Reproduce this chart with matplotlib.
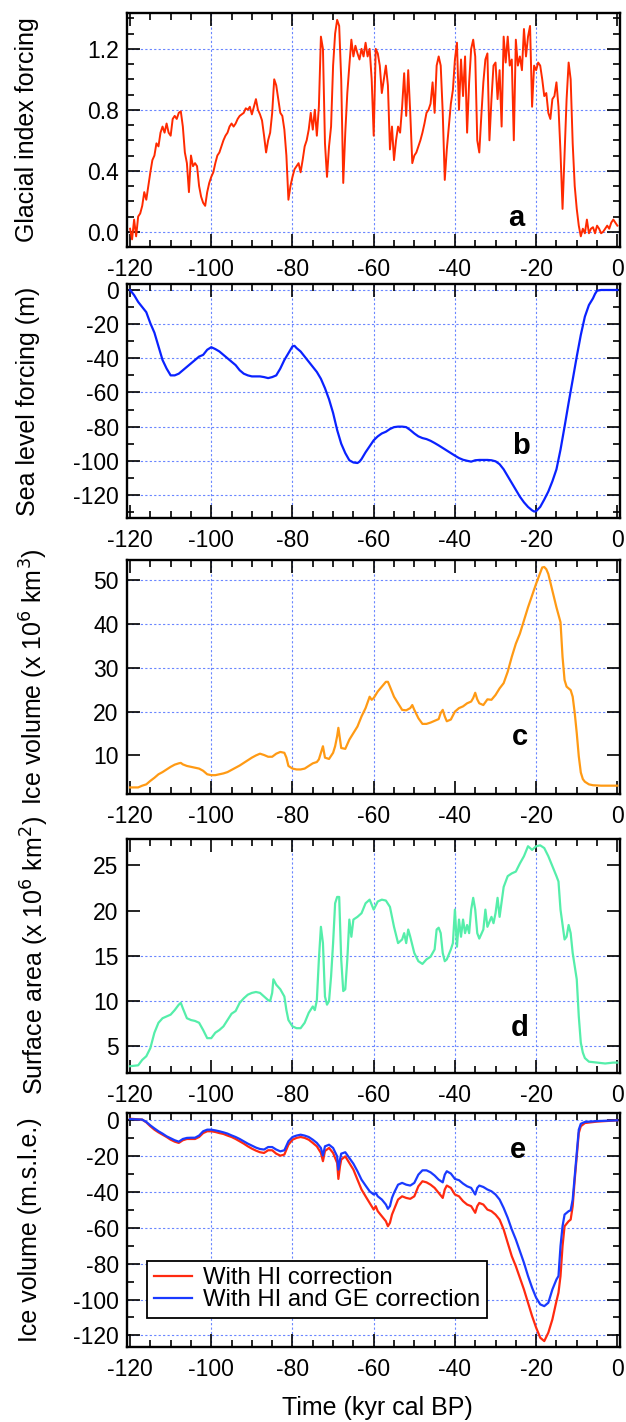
import numpy as np
import matplotlib
matplotlib.use("Agg")
import matplotlib.pyplot as plt
from matplotlib.ticker import MultipleLocator, FormatStrFormatter

plt.rcParams['font.family'] = ['Liberation Sans', 'DejaVu Sans']
plt.rcParams['axes.unicode_minus'] = False

# ---------------- data ----------------
# (a) glacial index forcing, sampled every 0.5 kyr from -120 to 0
time_a = np.arange(-120.0, 0.25, 0.5)
gi_a = [
    0.02, -0.05, 0.08, -0.03, 0.10, 0.12, 0.17, 0.26, 0.21, 0.30,
    0.39, 0.47, 0.50, 0.58, 0.56, 0.65, 0.69, 0.65, 0.71, 0.65,
    0.63, 0.74, 0.76, 0.74, 0.78, 0.79, 0.69, 0.52, 0.45, 0.26,
    0.50, 0.43, 0.45, 0.43, 0.30, 0.23, 0.19, 0.17, 0.26, 0.32,
    0.36, 0.39, 0.45, 0.50, 0.52, 0.56, 0.60, 0.63, 0.65, 0.69,
    0.71, 0.69, 0.71, 0.74, 0.76, 0.77, 0.78, 0.81, 0.80, 0.82,
    0.77, 0.82, 0.87, 0.80, 0.77, 0.73, 0.63, 0.52, 0.60, 0.65,
    0.78, 1.00, 0.96, 0.87, 0.78, 0.76, 0.67, 0.50, 0.21, 0.30,
    0.36, 0.41, 0.43, 0.45, 0.39, 0.47, 0.56, 0.60, 0.67, 0.78,
    0.67, 0.80, 0.63, 0.82, 1.28, 1.20, 0.58, 0.36, 0.56, 0.69,
    1.09, 1.30, 1.39, 1.35, 1.00, 0.32, 0.65, 0.91, 1.09, 1.26,
    1.15, 1.22, 1.17, 1.13, 1.20, 1.15, 1.24, 1.15, 1.20, 1.00,
    0.63, 1.20, 1.17, 1.09, 0.91, 1.00, 1.09, 0.96, 0.54, 0.69,
    0.47, 0.60, 0.69, 0.65, 0.82, 1.04, 0.76, 1.06, 0.78, 0.45,
    0.50, 0.52, 0.56, 0.60, 0.65, 0.71, 0.78, 0.80, 0.84, 0.98,
    0.78, 1.09, 1.15, 1.09, 0.78, 0.34, 0.54, 0.69, 0.84, 0.93,
    1.13, 1.24, 0.80, 1.13, 0.89, 1.15, 0.65, 0.98, 1.20, 1.26,
    1.15, 0.60, 0.52, 0.76, 0.98, 1.13, 1.17, 0.60, 0.87, 1.09,
    1.11, 0.87, 1.06, 0.69, 1.28, 1.11, 1.28, 1.09, 1.13, 0.60,
    1.26, 1.09, 1.15, 1.06, 1.33, 1.15, 1.28, 1.35, 0.82, 1.09,
    1.06, 1.11, 1.09, 1.00, 0.89, 0.91, 0.78, 0.74, 0.87, 0.89,
    0.98, 0.82, 0.52, 0.15, 0.52, 0.87, 1.11, 1.00, 0.58, 0.30,
    0.15, 0.04, -0.03, 0.02, -0.01, 0.08, -0.01, 0.02, 0.03, -0.01,
    0.04, 0.02, -0.01, 0.00, 0.02, 0.04, 0.02, 0.06, 0.08, 0.06,
    0.04,
]

# (b) sea level forcing (m)
time_b = [-120, -119, -118, -117, -116, -115, -114, -113, -112, -111, -110, -109, -108, -107,
          -106, -105, -104, -103, -102, -101, -100, -99, -98, -97, -96, -95, -94, -93, -92,
          -91, -90, -89, -88, -87, -86, -85, -84, -83, -82, -81, -80, -79.5, -79, -78, -77,
          -76, -75, -74, -73, -72, -71, -70, -69, -68, -67, -66, -65, -64, -63.5, -63, -62,
          -61, -60, -59, -58, -57, -56, -55, -54, -53, -52, -51, -50, -49, -48, -47, -46,
          -45, -44, -43, -42, -41, -40, -39, -38, -37, -36, -35, -34, -33, -32, -31, -30,
          -29, -28, -27, -26, -25, -24, -23, -22, -21, -20.5, -20, -19, -18, -17, -16, -15,
          -14, -13, -12, -11, -10, -9, -8, -7, -6, -5.5, -5, -4, 0]
sl_b = [0, -3, -7, -10, -13, -19.5, -25, -33, -41, -46, -50, -50, -49, -47,
        -45, -43, -41, -39, -38, -35, -33.5, -34.6, -36, -38, -40, -42, -44, -47, -49,
        -50, -50.6, -50.6, -50.6, -51, -51.6, -51, -50, -46, -41, -37, -33, -32.7, -34, -36, -39,
        -42, -45, -48, -52, -57.5, -64, -72, -82, -90, -95.5, -99.7, -101, -101.3, -100.5, -99, -95,
        -91.5, -88, -85.7, -84, -83, -81.4, -80.3, -80, -80, -80.3, -82, -84, -85.7, -86.7, -87.3, -88.3,
        -89.6, -91, -92.5, -94, -95.5, -97, -98.4, -99.4, -100, -100.5, -99.7, -99.5, -99.5, -99.5, -99.7, -100.3,
        -102, -105, -109, -113, -117, -121, -124.3, -127, -129, -129.7, -129.5, -127, -122.7, -118, -112, -105,
        -93.5, -80, -66, -52.6, -39, -26.3, -15.6, -8.8, -4.9, -2.3, -0.4, 0, 0]

# (c) ice volume (x 10^6 km^3)
time_c = [-120, -118, -117, -116, -115, -114, -113, -112, -111, -110, -109, -108, -107.5, -107,
          -106, -105, -104, -103, -102, -101, -100, -99, -98, -97, -96, -95, -94, -93, -92,
          -91, -90, -89, -88, -87, -86, -85, -84, -83, -82, -81.5, -81, -80, -79, -78, -77,
          -76, -75, -74, -73.5, -73, -72.5, -72, -71, -70, -69.5, -69, -68.7, -68.3, -68, -67,
          -66, -65, -64, -63, -62, -61, -60.5, -60, -59, -58, -57, -56.5, -56, -55, -54, -53,
          -52, -51, -50.5, -50, -49, -48, -47, -46, -45, -44, -43.5, -43, -42.5, -42, -41, -40,
          -39, -38, -37, -36, -35.5, -35, -34.5, -34, -33, -32, -31, -30, -29, -28, -27, -26,
          -25, -24, -23, -22, -21, -20, -19, -18.5, -18, -17.5, -17, -16, -15, -14, -13.5, -13,
          -12.5, -12, -11.5, -11, -10.5, -10, -9.5, -9, -8.5, -8, -7, -6, -4, -2, 0]
iv_c = [2.7, 2.7, 3.1, 3.4, 4.2, 4.9, 5.7, 6.2, 6.8, 7.4, 7.9, 8.2, 8.3, 7.96,
        7.6, 7.4, 7.2, 7.0, 6.5, 5.7, 5.5, 5.5, 5.7, 5.9, 6.2, 6.7, 7.2, 7.7, 8.3,
        8.9, 9.5, 10.0, 10.4, 10.1, 9.7, 9.7, 10.4, 10.8, 10.6, 9.5, 7.6, 7.0, 6.8, 6.8, 7.0,
        7.6, 8.2, 8.5, 9.1, 10.6, 12.1, 9.5, 9.2, 10.6, 12.1, 14.4, 16.3, 13.6, 11.7, 11.5,
        13.6, 15.1, 16.6, 18.9, 20.8, 23.4, 22.7, 23.1, 24.6, 25.7, 26.8, 26.8, 25.7, 23.4, 21.9, 20.4,
        20.3, 20.8, 21.5, 20.4, 18.5, 17.2, 17.2, 17.5, 17.9, 18.3, 19.7, 20.4, 18.9, 17.8, 18.2, 20.0,
        20.8, 21.2, 21.9, 22.3, 23.1, 24.3, 22.8, 21.9, 21.5, 22.8, 22.7, 23.8, 25.3, 26.5, 29.1, 32.5,
        35.5, 37.8, 40.8, 43.8, 46.5, 49.2, 51.7, 52.9, 53.0, 52.5, 51.4, 47.6, 43.8, 40.4, 32.5, 27.2,
        25.7, 25.3, 24.9, 23.4, 19.7, 15.1, 9.8, 6.1, 4.6, 4.0, 3.4, 3.2, 3.1, 3.1, 3.1]

# (d) surface area (x 10^6 km^2)
time_d = [-120, -118, -117, -116, -115, -114, -113, -112, -111, -110, -109, -108, -107.5, -107,
          -106, -105, -104, -103, -102, -101, -100, -99, -98, -97, -96, -95, -94, -93, -92,
          -91, -90, -89, -88, -87, -86, -85.5, -85, -84.7, -84, -83, -82, -81.5, -81, -80,
          -79, -78, -77, -76, -75, -74.5, -74, -73.5, -73, -72.5, -72, -71.5, -71, -70.5, -70,
          -69.5, -69, -68.5, -68, -67.5, -67, -66.5, -66, -65.5, -65, -64, -63, -62, -61, -60,
          -59, -58, -57, -56, -55, -54, -53, -52.5, -52, -51.5, -51, -50, -49, -48, -47, -46,
          -45, -44.5, -44, -43.5, -43, -42.5, -42, -41, -40.5, -40, -39.5, -39, -38.5, -38,
          -37.5, -37, -36.5, -36, -35.5, -35, -34.5, -34, -33, -32.5, -32, -31, -30.5, -30,
          -29.5, -29, -28, -27, -26, -25, -24, -23, -22, -21, -20, -19, -18, -17, -16, -15,
          -14.5, -14, -13, -12.5, -12, -11.5, -11, -10, -9.5, -9, -8.5, -8, -7, -5, -3, -1, 0]
sa_d = [2.8, 2.9, 3.5, 3.9, 4.8, 6.5, 7.6, 8.1, 8.3, 8.5, 9.0, 9.6, 9.8, 9.2,
        8.1, 7.9, 7.8, 7.6, 6.8, 5.9, 5.9, 6.5, 6.8, 7.2, 7.9, 8.6, 8.9, 9.8, 10.3,
        10.7, 10.9, 11.0, 10.9, 10.5, 10.1, 10.0, 10.9, 12.4, 11.8, 11.3, 10.5, 9.0, 7.9, 7.2,
        7.0, 7.0, 7.6, 8.7, 9.4, 9.0, 10.1, 14.6, 18.2, 16.4, 10.5, 9.6, 10.0, 12.7, 16.4,
        20.8, 21.5, 21.5, 14.6, 11.1, 11.3, 14.6, 19.0, 17.1, 19.0, 19.3, 19.7, 20.8, 21.2, 20.1,
        21.0, 21.2, 21.1, 20.4, 18.2, 16.4, 16.8, 17.5, 16.4, 17.9, 17.1, 15.3, 14.4, 14.1, 14.6, 14.9,
        15.7, 17.9, 18.1, 17.5, 15.3, 14.4, 14.6, 15.7, 16.4, 20.1, 16.0, 19.0, 17.1, 19.0,
        17.5, 18.4, 17.5, 20.1, 21.4, 20.1, 17.5, 16.9, 17.9, 20.1, 18.2, 19.3, 18.6, 19.7,
        21.4, 19.3, 22.6, 23.8, 24.1, 24.3, 25.2, 26.0, 27.1, 26.7, 27.1, 27.2, 26.9, 26.0, 24.9, 23.8,
        23.2, 20.1, 16.8, 17.1, 18.4, 17.5, 15.3, 12.4, 8.3, 5.4, 4.3, 3.7, 3.3, 3.2, 3.1, 3.2, 3.2]

# (e) ice volume in metres sea-level equivalent
time_e = [-120, -117, -116, -115, -114, -113, -112, -111, -110, -109, -108, -107, -106, -105,
          -104, -103, -102, -101, -100, -99, -98, -97, -96, -95, -94, -93, -92, -91, -90,
          -89, -88, -87, -86, -85, -84, -83, -82, -81, -80, -79, -78, -77, -76, -75, -74,
          -73, -72.5, -72, -71, -70, -69, -68.7, -68.3, -68, -67, -66, -65, -64, -63, -62,
          -61, -60, -59.5, -59, -58, -57, -56.5, -56, -55.5, -55, -54, -53, -52, -51, -50,
          -49, -48, -47, -46, -45, -44, -43, -42.5, -42, -41, -40, -39, -38, -37, -36,
          -35, -34.5, -34, -33, -32, -31, -30, -29, -28, -27, -26, -25, -24, -23, -22,
          -21, -20, -19, -18, -17, -16, -15, -14.5, -14, -13.5, -13, -12, -11.5, -11, -10.5,
          -10, -9.5, -9, -8, -5, 0]
hi_e = [0.9, 0.4, -1.1, -3.3, -5.2, -6.7, -8.0, -9.3, -10.8, -11.9, -12.6, -11.1, -10.4, -10.4,
        -10.4, -9.3, -7.1, -6.1, -6.1, -6.5, -7.1, -7.6, -8.5, -9.3, -10.4, -11.7, -13.0, -14.5, -15.8,
        -16.9, -17.8, -18.2, -16.7, -16.7, -18.6, -19.7, -19.1, -13.6, -10.8, -9.8, -9.3, -9.8, -10.8, -12.6, -14.5,
        -18.2, -22.8, -17.1, -15.4, -18.2, -23.8, -32.7, -25.6, -21.9, -20.1, -23.8, -27.5, -33.1, -38.6, -42.4,
        -46.1, -49.8, -47.9, -50.7, -53.5, -56.3, -59.1, -57.2, -52.6, -49.8, -44.2, -42.4, -43.3, -43.8, -42.4,
        -36.8, -34.0, -34.6, -35.9, -37.7, -40.5, -43.3, -38.6, -36.4, -37.7, -41.4, -42.4, -45.1, -47.0, -47.9,
        -51.6, -47.9, -46.1, -47.0, -49.8, -50.7, -52.6, -55.4, -60.9, -68.4, -75.8, -81.4, -87.9, -94.4, -101.8,
        -109.2, -115.7, -121.3, -123.2, -118.5, -111.1, -100.9, -96.2, -86.9, -70.2, -59.1, -56.3, -55.4, -47.9, -33.1,
        -20.1, -7.1, -3.3, -1.5, -0.7, 0.0]
hige_e = [0.7, 0.4, -0.9, -2.8, -4.5, -6.1, -7.4, -8.9, -10.0, -11.1, -11.9, -10.4, -9.8, -9.7,
          -9.7, -8.5, -6.1, -5.2, -5.2, -5.6, -6.1, -6.7, -7.4, -8.4, -9.3, -10.4, -11.7, -13.0, -14.1,
          -15.2, -16.0, -16.3, -14.9, -14.9, -16.3, -17.3, -16.7, -11.7, -9.3, -8.5, -8.0, -8.5, -9.3, -10.8, -12.6,
          -15.4, -19.7, -14.5, -13.6, -15.4, -20.1, -27.5, -21.9, -18.6, -17.8, -21.0, -24.2, -28.4, -33.1, -36.4,
          -39.6, -41.4, -40.5, -42.4, -44.2, -47.0, -49.4, -47.9, -43.3, -40.5, -35.9, -34.9, -35.9, -36.4, -34.9,
          -30.3, -27.9, -27.9, -29.0, -30.8, -33.1, -34.6, -30.3, -28.4, -29.7, -32.7, -33.4, -35.3, -36.8, -37.7,
          -41.4, -37.7, -36.4, -37.2, -38.6, -39.6, -41.4, -44.2, -48.9, -54.4, -60.9, -66.5, -73.0, -79.5, -86.9,
          -93.4, -99.0, -102.7, -103.7, -101.8, -94.4, -88.8, -86.9, -70.2, -59.1, -52.6, -50.7, -50.2, -44.2, -31.2,
          -18.2, -5.2, -1.9, -0.9, -0.4, 0.0]

legend_labels = ["With HI correction", "With HI and GE correction"]
ylabels = ["Glacial index forcing", "Sea level forcing (m)",
           "Ice volume (x 10$^6$ km$^3$)", "Surface area (x 10$^6$ km$^2$)",
           "Ice volume (m.s.l.e.)"]
panel_letters = ["a", "b", "c", "d", "e"]
xticks = [-120, -100, -80, -60, -40, -20, 0]

# ---------------- figure ----------------
W, H = 626, 1422
fig = plt.figure(figsize=(W / 100, H / 100), dpi=100)

left_px, right_px = 127, 620
panels_px = [(13, 247), (284, 518), (560, 794), (839, 1073), (1113, 1347)]
axes = []
for top, bot in panels_px:
    ax = fig.add_axes([left_px / W, (H - bot) / H, (right_px - left_px) / W, (bot - top) / H])
    axes.append(ax)

GRID_C = '#6a86ff'
TICK_FS = 16.5
LABEL_FS = 18

def style(ax, ylim, ymaj, ymin, yl, gx, gy, lab_x):
    ax.set_xlim(-120.75, 0.65)
    ax.set_ylim(*ylim)
    ax.xaxis.set_major_locator(MultipleLocator(20))
    ax.xaxis.set_minor_locator(MultipleLocator(5))
    ax.yaxis.set_major_locator(MultipleLocator(ymaj))
    if ymin:
        ax.yaxis.set_minor_locator(MultipleLocator(ymin))
    ax.tick_params(which='both', direction='in', top=True, right=True, labelsize=TICK_FS,
                   color='black')
    ax.tick_params(which='major', length=9.5, width=1.2)
    ax.tick_params(which='minor', length=5, width=1.2)
    ax.tick_params(axis='y', pad=6)
    ax.tick_params(axis='x', pad=8)
    for s in ax.spines.values():
        s.set_linewidth(1.7)
    for x in gx:
        ax.axvline(x, color=GRID_C, lw=0.8, ls=(0, (2, 2)), zorder=0)
    for y in gy:
        ax.axhline(y, color=GRID_C, lw=0.8, ls=(0, (2, 2)), zorder=0)
    ax.set_ylabel(yl, fontsize=LABEL_FS, va='center')
    ax.yaxis.set_label_coords((lab_x - left_px) / (right_px - left_px), 0.5)

ax = axes[0]
ax.plot(time_a, gi_a, color='#ff2a00', lw=1.4)
style(ax, (-0.1, 1.435), 0.4, 0.1, ylabels[0],
      [-100, -80, -60, -40, -20], [0.0, 0.4, 0.8, 1.2], 27)
ax.yaxis.set_major_formatter(FormatStrFormatter('%.1f'))

ax = axes[1]
ax.plot(time_b, sl_b, color='#0a22ff', lw=1.6)
style(ax, (-133.5, 3.5), 20, 10, ylabels[1],
      [-100, -80, -60, -40, -20], [0, -20, -40, -60, -80, -100, -120], 28)

ax = axes[2]
ax.plot(time_c, iv_c, color='#ff9a14', lw=1.6)
style(ax, (1.2, 54.6), 10, None, ylabels[2],
      [-100, -80, -60, -20], [20, 30, 40, 50], 34)

ax = axes[3]
ax.plot(time_d, sa_d, color='#55eeaa', lw=1.6)
style(ax, (2.05, 27.9), 5, None, ylabels[3],
      [-80, -60, -40, -20], [5, 10, 15], 35)

ax = axes[4]
l1, = ax.plot(time_e, hi_e, color='#ff2a10', lw=1.6, label=legend_labels[0])
l2, = ax.plot(time_e, hige_e, color='#1a3aff', lw=1.6, label=legend_labels[1])
style(ax, (-126.5, 4.1), 20, 10, ylabels[4],
      [-100, -80, -60, -40, -20], [0, -20, -40, -60, -80, -100, -120], 30)
leg = ax.legend(loc='lower left', bbox_to_anchor=(0.041, 0.124), borderaxespad=0,
                fontsize=17.2, frameon=True, fancybox=False, framealpha=1,
                edgecolor='black', handlelength=1.6, handletextpad=0.45,
                labelspacing=0.0, borderpad=0.28)
leg.get_frame().set_linewidth(1.3)

for ax in axes:
    ax.set_xticks(xticks)

letter_pos = [(0.79, 0.124), (0.80, 0.309), (0.797, 0.245), (0.797, 0.192), (0.793, 0.842)]
for ax, let, (lx, ly) in zip(axes, panel_letters, letter_pos):
    ax.text(lx, ly, let, transform=ax.transAxes, fontsize=21, fontweight='bold',
            ha='center', va='center')

fig.text(377 / W, 1 - 1408 / H, "Time (kyr cal BP)", fontsize=LABEL_FS, ha='center', va='center')

fig.savefig("out.png", dpi=100)
